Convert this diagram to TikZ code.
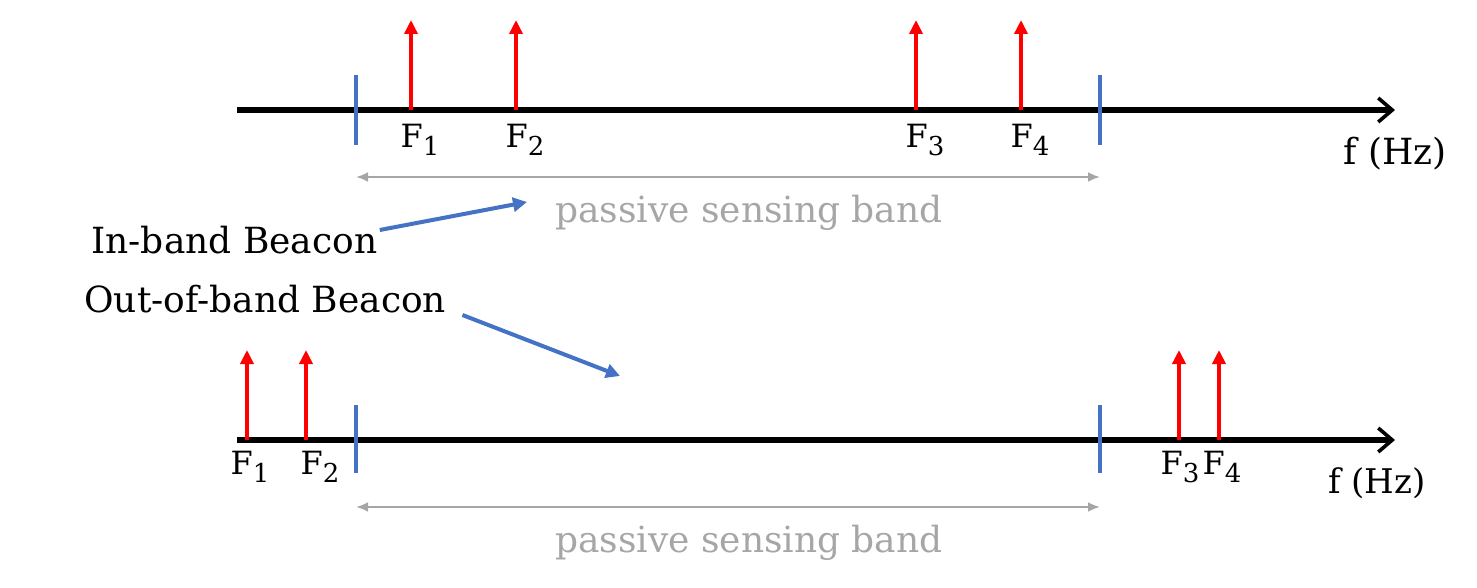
\documentclass[tikz,border=0pt]{standalone}
\usepackage{fontspec}
\setmainfont{DejaVu Serif}
\usetikzlibrary{arrows.meta,positioning}
\definecolor{TickBlue}{HTML}{4472C4}
\definecolor{BandGray}{HTML}{A6A6A6}
\newcommand{\freq}[1]{F\raisebox{-0.45ex}{\fontsize{13}{13}\selectfont #1}}

\begin{document}
\begin{tikzpicture}[x=0.5pt,y=-0.5pt,>=Latex,font=\fontsize{18}{21}\selectfont]
    \useasboundingbox (0,0) rectangle (1477,588);
    \tikzset{axis/.style={line width=2.6pt,-{Straight Barb[length=7pt,width=12pt,line width=1.8pt]}},
      tone/.style={line width=2pt,red,-{Triangle[length=7pt,width=6.5pt]}},
      edge/.style={line width=1.6pt,TickBlue},
      band/.style={line width=1.3pt,BandGray,{Latex[length=6pt,width=5pt]}-{Latex[length=6pt,width=5pt]}},
      pointer/.style={line width=2pt,TickBlue,-{Triangle[length=7pt,width=7pt]}},
      flabel/.style={inner sep=0pt,font=\fontsize{16}{18}\selectfont}}
    % in-band row
    \coordinate (a0) at (237,110); \coordinate (a1) at (1395,110);
    \draw[axis] (a0) -- (a1);
    \foreach \x/\n in {411/1,516/2,916/3,1021/4} {
      \coordinate (ta\n) at (\x,110); \coordinate (ha\n) at (\x,20);
      \draw[tone] (ta\n) -- (ha\n);
      \node[flabel] (la\n) at (\x+9,140) {\freq{\n}};
    }
    \foreach \x/\n in {356/l,1100/r} {
      \coordinate (ea\n) at (\x,75); \coordinate (fa\n) at (\x,145);
      \draw[edge] (ea\n) -- (fa\n);
    }
    \coordinate (ba0) at (356,177); \coordinate (ba1) at (1100,177);
    \draw[band] (ba0) -- (ba1);
    \node[text=BandGray,inner sep=0pt] (bandA) at (749,213) {passive sensing band};
    \node[inner sep=0pt,anchor=west] (hzA) at (1343,154) {f (Hz)};
    % beacons
    \node[inner sep=0pt,anchor=west] (inb) at (91,240) {In-band Beacon};
    \node[inner sep=0pt,anchor=west] (outb) at (84,299) {Out-of-band Beacon};
    \coordinate (pin) at (527,202); \coordinate (pout) at (620,376);
    \draw[pointer] ([xshift=1pt,yshift=5pt]inb.east) -- (pin);
    \draw[pointer] ([xshift=8pt,yshift=-8pt]outb.east) -- (pout);
    % out-of-band row
    \coordinate (b0) at (237,440); \coordinate (b1) at (1395,440);
    \draw[axis] (b0) -- (b1);
    \foreach \x/\n/\d in {247/1/3,306/2/14,1179/3/1,1219/4/3} {
      \coordinate (tb\n) at (\x,440); \coordinate (hb\n) at (\x,350);
      \draw[tone] (tb\n) -- (hb\n);
      \node[flabel] (lb\n) at (\x+\d,467) {\freq{\n}};
    }
    \foreach \x/\n in {356/l,1100/r} {
      \coordinate (eb\n) at (\x,405); \coordinate (fb\n) at (\x,473);
      \draw[edge] (eb\n) -- (fb\n);
    }
    \coordinate (bb0) at (356,507); \coordinate (bb1) at (1100,507);
    \draw[band] (bb0) -- (bb1);
    \node[text=BandGray,inner sep=0pt] (bandB) at (749,543) {passive sensing band};
    \node[inner sep=0pt,anchor=east,font=\fontsize{17}{20}\selectfont] (hzB) at (1426,483) {f (Hz)};
  \end{tikzpicture}
\end{document}
